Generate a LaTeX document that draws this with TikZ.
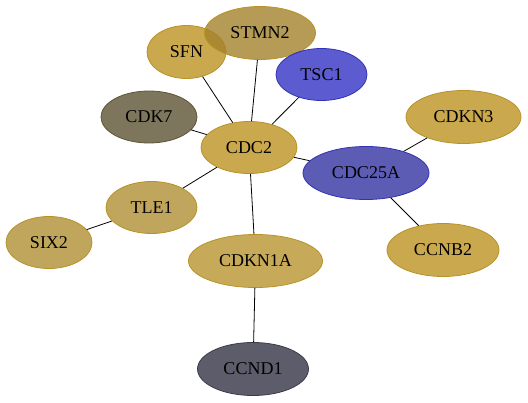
\documentclass[tikz,border=0pt]{standalone}
\usepackage{fontspec}
\setmainfont{Liberation Serif}
\usetikzlibrary{shapes.geometric}
\definecolor{goldA}{RGB}{189,146,34}
\definecolor{goldB}{RGB}{164,130,44}
\definecolor{goldC}{RGB}{176,143,51}
\definecolor{goldE}{RGB}{184,149,49}
\definecolor{goldD}{RGB}{184,146,40}
\definecolor{blueA}{RGB}{51,51,196}
\definecolor{blueB}{RGB}{51,51,161}
\definecolor{blueD}{RGB}{50,50,180}
\definecolor{olive}{RGB}{92,83,51}
\definecolor{oliveD}{RGB}{95,85,55}
\definecolor{slate}{RGB}{51,51,69}
\definecolor{slateD}{RGB}{60,60,72}
\tikzset{
  gene/.style={ellipse, inner sep=0pt, font=\fontsize{18}{20}\selectfont, fill opacity=0.8, text opacity=1, line width=0.8pt},
  gold/.style={gene, fill=goldA, draw=goldD},
  goldb/.style={gene, fill=goldB, draw=goldD},
  goldc/.style={gene, fill=goldC, draw=goldD},
  golde/.style={gene, fill=goldE, draw=goldD},
  bluea/.style={gene, fill=blueA, draw=blueD},
  blueb/.style={gene, fill=blueB, draw=blueD},
  olivec/.style={gene, fill=olive, draw=oliveD},
  slatec/.style={gene, fill=slate, draw=slateD},
  edge/.style={draw=black, line width=0.8pt}
}
\begin{document}
\begin{tikzpicture}[x=1pt,y=-1pt]
\useasboundingbox (0,0) rectangle (528,403);
\node[gold, minimum width=79pt, minimum height=53pt] (SFN) at (186.5,52) {SFN};
\node[goldb, minimum width=111pt, minimum height=53pt] (STMN2) at (260,33) {STMN2};
\node[bluea, minimum width=91pt, minimum height=52pt] (TSC1) at (321.5,74.5) {TSC1};
\node[olivec, minimum width=96pt, minimum height=52pt] (CDK7) at (149,117) {CDK7};
\node[gold, minimum width=96pt, minimum height=52pt] (CDC2) at (249,147.5) {CDC2};
\node[gold, minimum width=115pt, minimum height=53pt] (CDKN3) at (463.5,117) {CDKN3};
\node[blueb, minimum width=126pt, minimum height=53pt] (CDC25A) at (366,173) {CDC25A};
\node[gold, minimum width=112pt, minimum height=53pt] (CCNB2) at (443,250) {CCNB2};
\node[goldc, minimum width=91pt, minimum height=52pt] (TLE1) at (151.5,207.5) {TLE1};
\node[goldc, minimum width=86pt, minimum height=52pt] (SIX2) at (49,242.5) {SIX2};
\node[golde, minimum width=134pt, minimum height=53pt] (CDKN1A) at (255.5,261) {CDKN1A};
\node[slatec, minimum width=111pt, minimum height=53pt] (CCND1) at (253,369) {CCND1};
\draw[edge] (SFN) -- (CDC2);
\draw[edge] (STMN2) -- (CDC2);
\draw[edge] (TSC1) -- (CDC2);
\draw[edge] (CDK7) -- (CDC2);
\draw[edge] (CDC2) -- (CDC25A);
\draw[edge] (CDC2) -- (TLE1);
\draw[edge] (CDC2) -- (CDKN1A);
\draw[edge] (CDC25A) -- (CDKN3);
\draw[edge] (CDC25A) -- (CCNB2);
\draw[edge] (TLE1) -- (SIX2);
\draw[edge] (CDKN1A) -- (CCND1);
\end{tikzpicture}
\end{document}
